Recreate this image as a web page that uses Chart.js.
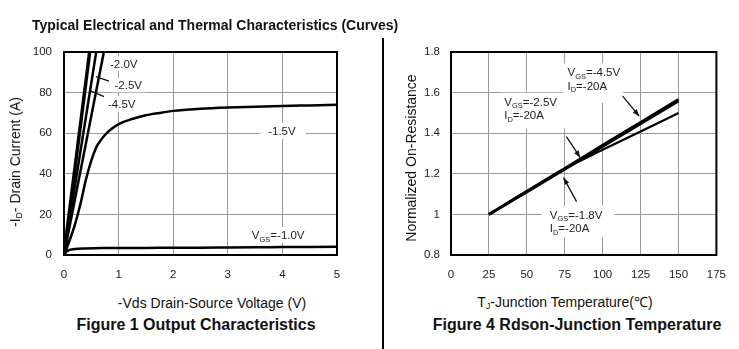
<!DOCTYPE html>
<html>
<head>
<meta charset="utf-8">
<script src="https://cdn.jsdelivr.net/npm/chart.js@4.4.1/dist/chart.umd.min.js"></script>
<style>
  body { margin: 0; width: 739px; height: 349px; background: #fff; position: relative; overflow: hidden;
         font-family: "Liberation Sans", Arial, sans-serif; color: #111; }
  .t { position: absolute; white-space: nowrap; line-height: 1; transform: translate(-50%, -50%); }
  .rot { transform: translate(-50%, -50%) rotate(-90deg); }
  .sub { font-size: 0.62em; vertical-align: -0.25em; }
  canvas { position: absolute; top: 0; }
</style>
</head>
<body>
<canvas id="fig1" width="380" height="290" style="left:0"></canvas>
<canvas id="fig4" width="356" height="290" style="left:383px"></canvas>

<div class="t" style="left:32px;top:24.5px;transform:translate(0,-50%);font-weight:bold;font-size:14px">Typical Electrical and Thermal Characteristics (Curves)</div>
<div style="position:absolute;left:382px;top:38px;width:2px;height:311px;background:#000"></div>

<div class="t rot" style="left:16px;top:162px;font-size:14px">-I<span class="sub">D</span>- Drain Current (A)</div>
<div class="t" style="left:212px;top:303px;font-size:14px">-Vds Drain-Source Voltage (V)</div>
<div class="t" style="left:196px;top:325px;font-size:16px;font-weight:bold">Figure 1 Output Characteristics</div>

<div class="t rot" style="left:411px;top:158px;font-size:14px">Normalized On-Resistance</div>
<div class="t" style="left:565px;top:303px;font-size:14px">T<span class="sub">J</span>-Junction Temperature(℃)</div>
<div class="t" style="left:577px;top:325px;font-size:16px;font-weight:bold">Figure 4 Rdson-Junction Temperature</div>

<script>
// Figure 1: output characteristics
const vdsTicks = [0, 1, 2, 3, 4, 5];
const idTicks = [0, 20, 40, 60, 80, 100];
const vdsVgs45 = [0, 0.47];
const idVgs45 = [0, 100];
const vdsVgs25 = [0, 0.59];
const idVgs25 = [0, 100];
const vdsVgs20 = [0, 0.73];
const idVgs20 = [0, 100];
const vdsVgs15 = [0, 0.1, 0.2, 0.3, 0.4, 0.5, 0.6, 0.7, 0.8, 1.0, 1.25, 1.5, 1.75, 2.0, 2.5, 3.0, 3.5, 4.0, 4.5, 5.0];
const idVgs15 = [0, 7, 15, 25, 37, 46.5, 53.5, 57.5, 60.5, 64.5, 67, 68.8, 70, 71, 72, 72.6, 73, 73.4, 73.7, 74];
const vdsVgs10 = [0, 0.05, 0.1, 0.2, 0.4, 0.7, 1, 1.5, 2, 2.5, 3, 3.5, 4, 4.5, 5];
const idVgs10 = [0, 1.8, 2.5, 3.0, 3.2, 3.4, 3.5, 3.5, 3.6, 3.6, 3.7, 3.8, 3.9, 4.0, 4.1];

// Figure 4: Rdson vs junction temperature
const tjTicks = [0, 25, 50, 75, 100, 125, 150, 175];
const rTicks = [0.8, 1, 1.2, 1.4, 1.6, 1.8];
const tj = [25, 50, 75, 100, 125, 150];
const rVgs45 = [1.0, 1.113, 1.226, 1.34, 1.453, 1.566];
const rVgs18 = [1.0, 1.11, 1.222, 1.334, 1.446, 1.558];
const rVgs25 = [1.0, 1.115, 1.225, 1.318, 1.408, 1.50];

const FONT = '"Liberation Sans", Arial, sans-serif';
const pts = (xs, ys) => xs.map((x, i) => ({x: x, y: ys[i]}));

function parts(s) {
  const out = [];
  s.split(/(_\{[^}]*\})/).forEach(p => {
    if (!p) return;
    if (p.startsWith('_{')) out.push([p.slice(2, -1), true]);
    else out.push([p, false]);
  });
  return out;
}
function richWidth(ctx, s) {
  let w = 0;
  parts(s).forEach(([t, sub]) => {
    ctx.font = (sub ? '7.5px ' : '11.5px ') + FONT;
    w += ctx.measureText(t).width;
  });
  return w;
}
function drawRich(ctx, s, x, cy) {
  const base = cy + 4.1;
  parts(s).forEach(([t, sub]) => {
    ctx.font = (sub ? '7.5px ' : '11.5px ') + FONT;
    ctx.fillText(t, x, sub ? base + 2.5 : base);
    x += ctx.measureText(t).width;
  });
}

const LH = 13.5;
const notes = {
  id: 'notes',
  beforeDatasetsDraw(chart, args, o) {
    const ctx = chart.ctx, sx = chart.scales.x, sy = chart.scales.y;
    ctx.save();
    ctx.fillStyle = '#fff';
    (o.items || []).forEach(n => {
      const x = sx.getPixelForValue(n.x), y = sy.getPixelForValue(n.y);
      const w = Math.max(...n.lines.map(l => richWidth(ctx, l)));
      const p = n.pad;
      ctx.fillRect(x - p[0], y - 5 - p[1], w + p[0] + p[2], (n.lines.length - 1) * LH + 10 + p[1] + p[3]);
    });
    ctx.restore();
  },
  afterDatasetsDraw(chart, args, o) {
    const ctx = chart.ctx, sx = chart.scales.x, sy = chart.scales.y, a = chart.chartArea;
    ctx.save();
    ctx.strokeStyle = '#000';
    ctx.lineWidth = 2;
    ctx.strokeRect(a.left, a.top, a.right - a.left, a.bottom - a.top);
    ctx.fillStyle = '#222';
    ctx.textBaseline = 'alphabetic';
    (o.items || []).forEach(n => {
      const x = sx.getPixelForValue(n.x), y = sy.getPixelForValue(n.y);
      n.lines.forEach((l, i) => drawRich(ctx, l, x, y + i * LH));
    });
    ctx.strokeStyle = '#111';
    ctx.fillStyle = '#111';
    ctx.lineWidth = 1.3;
    (o.arrows || []).forEach(ar => {
      const x0 = sx.getPixelForValue(ar.from[0]), y0 = sy.getPixelForValue(ar.from[1]);
      const x1 = sx.getPixelForValue(ar.to[0]), y1 = sy.getPixelForValue(ar.to[1]);
      ctx.beginPath(); ctx.moveTo(x0, y0); ctx.lineTo(x1, y1); ctx.stroke();
      if (ar.head) {
        const ang = Math.atan2(y1 - y0, x1 - x0), L = 7, W = 2.6;
        ctx.beginPath();
        ctx.moveTo(x1, y1);
        ctx.lineTo(x1 - L * Math.cos(ang) + W * Math.sin(ang), y1 - L * Math.sin(ang) - W * Math.cos(ang));
        ctx.lineTo(x1 - L * Math.cos(ang) - W * Math.sin(ang), y1 - L * Math.sin(ang) + W * Math.cos(ang));
        ctx.closePath(); ctx.fill();
      }
    });
    ctx.restore();
  }
};

function axis(min, max, tickVals, pad, size, horizontal) {
  return {
    type: 'linear', min: min, max: max,
    afterBuildTicks: s => { s.ticks = tickVals.map(v => ({value: v})); },
    afterFit: s => { if (horizontal) s.height = size; else s.width = size; },
    grid: {color: '#9a9a9a', lineWidth: 1, drawTicks: false},
    border: {display: false},
    ticks: {padding: pad, color: '#222', font: {family: FONT, size: 11.5}, callback: v => String(v), maxRotation: 0, autoSkip: false}
  };
}

function line(data, width, mode) {
  return {data: data, borderColor: '#000', borderWidth: width, pointRadius: 0, fill: false,
          cubicInterpolationMode: mode || 'default', tension: mode ? 0.4 : 0};
}

new Chart(document.getElementById('fig1'), {
  type: 'scatter',
  data: {
    datasets: [
      line(pts(vdsVgs45, idVgs45), 3.5),
      line(pts(vdsVgs25, idVgs25), 2.5),
      line(pts(vdsVgs20, idVgs20), 2.5),
      Object.assign(line(pts(vdsVgs15, idVgs15), 2.5, 'monotone'), {showLine: true}),
      Object.assign(line(pts(vdsVgs10, idVgs10), 2.5, 'monotone'), {showLine: true})
    ].map(d => Object.assign(d, {showLine: true}))
  },
  options: {
    responsive: false, animation: false, devicePixelRatio: 1,
    layout: {padding: {top: 52, right: 43, bottom: 10, left: 0}},
    scales: {x: axis(0, 5, vdsTicks, 13, 25, true), y: axis(0, 100, idTicks, 12, 64, false)},
    plugins: {
      legend: {display: false}, tooltip: {enabled: false},
      notes: {
        items: [
          {x: 0.842, y: 94.1, lines: ['-2.0V'], pad: [2, 3, 3, 2]},
          {x: 0.925, y: 83.6, lines: ['-2.5V'], pad: [2, 2, 3, 2]},
          {x: 0.806, y: 74.4, lines: ['-4.5V'], pad: [2, 3, 3, 3]},
          {x: 3.74, y: 61.1, lines: ['-1.5V'], pad: [8, 3, 10, 3]},
          {x: 3.44, y: 9.85, lines: ['V_{GS}=-1.0V'], pad: [2, 3, 2, 3]}
        ],
        arrows: [
          {from: [0.586, 87.9], to: [0.824, 85.6]},
          {from: [0.476, 81.0], to: [0.733, 78.0]}
        ]
      }
    }
  },
  plugins: [notes]
});

new Chart(document.getElementById('fig4'), {
  type: 'scatter',
  data: {
    datasets: [
      line(pts(tj, rVgs45), 3, 'monotone'),
      line(pts(tj, rVgs18), 2.5, 'monotone'),
      line(pts(tj, rVgs25), 2.2, 'monotone')
    ].map(d => Object.assign(d, {showLine: true}))
  },
  options: {
    responsive: false, animation: false, devicePixelRatio: 1,
    layout: {padding: {top: 52, right: 19, bottom: 10, left: 0}},
    scales: {x: axis(0, 175, tjTicks, 13, 25, true), y: axis(0.8, 1.8, rTicks, 11, 68, false)},
    plugins: {
      legend: {display: false}, tooltip: {enabled: false},
      notes: {
        items: [
          {x: 76.8, y: 1.700, lines: ['V_{GS}=-4.5V', 'I_{D}=-20A'], pad: [4, 4, 3, 12]},
          {x: 35.1, y: 1.555, lines: ['V_{GS}=-2.5V', 'I_{D}=-20A'], pad: [3, 4, 9, 8]},
          {x: 65.1, y: 0.998, lines: ['V_{GS}=-1.8V', 'I_{D}=-20A'], pad: [8, 4, 12, 4]}
        ],
        arrows: [
          {from: [113.2, 1.583], to: [124.1, 1.484], head: true},
          {from: [76.1, 1.383], to: [85.2, 1.280], head: true},
          {from: [82.8, 1.063], to: [74.2, 1.181], head: true}
        ]
      }
    }
  },
  plugins: [notes]
});
</script>
</body>
</html>
